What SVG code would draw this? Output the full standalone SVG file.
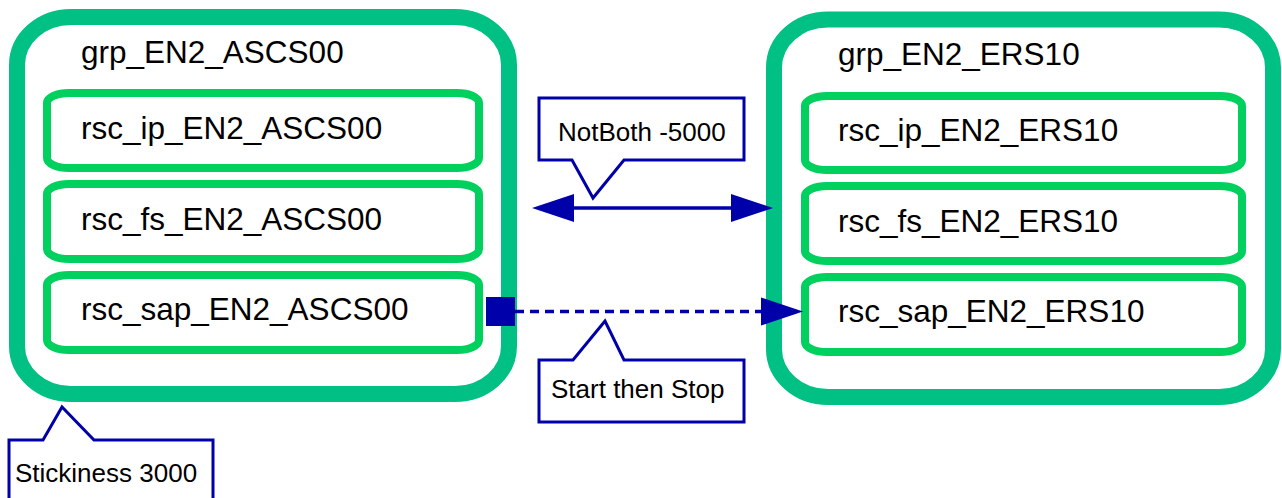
<svg xmlns="http://www.w3.org/2000/svg" width="1282" height="498" viewBox="0 0 1282 498">
<style>
.grp{fill:#ffffff;stroke:#00c084;stroke-width:16}
.rsc{fill:#ffffff;stroke:#00d05e;stroke-width:8}
.big{font-family:"Liberation Sans",Arial,sans-serif;font-size:31.5px;fill:#000000}
.lbl{font-family:"Liberation Sans",Arial,sans-serif;font-size:26px;fill:#000000}
.call{fill:#ffffff;stroke:#0000aa;stroke-width:3;stroke-linejoin:miter}
.edge{stroke:#0000aa;stroke-width:3.5;fill:none}
</style>
<defs>
<marker id="arr" markerUnits="userSpaceOnUse" markerWidth="44" markerHeight="30" viewBox="0 -15 44 30" refX="0" refY="0" orient="auto-start-reverse" overflow="visible">
<path d="M0,-14 L42,0 L0,14 Z" fill="#0000aa"/>
</marker>
</defs>
<g id="grp_EN2_ASCS00">
<rect class="grp" x="17" y="17" width="492" height="377" rx="54" ry="48"/>
<text class="big" x="81" y="63">grp_EN2_ASCS00</text>
</g>
<g id="rsc_ip_EN2_ASCS00">
<rect class="rsc" x="47" y="93" width="432" height="75" rx="22" ry="10"/>
<text class="big" x="81" y="139">rsc_ip_EN2_ASCS00</text>
</g>
<g id="rsc_fs_EN2_ASCS00">
<rect class="rsc" x="47" y="184" width="432" height="75" rx="22" ry="10"/>
<text class="big" x="81" y="230">rsc_fs_EN2_ASCS00</text>
</g>
<g id="rsc_sap_EN2_ASCS00">
<rect class="rsc" x="47" y="275" width="432" height="75" rx="22" ry="10"/>
<text class="big" x="81" y="320">rsc_sap_EN2_ASCS00</text>
</g>
<g id="grp_EN2_ERS10">
<rect class="grp" x="774" y="19.5" width="499" height="377.5" rx="54" ry="48"/>
<text class="big" x="838" y="65">grp_EN2_ERS10</text>
</g>
<g id="rsc_ip_EN2_ERS10">
<rect class="rsc" x="805" y="96" width="437" height="74" rx="22" ry="10"/>
<text class="big" x="838" y="141">rsc_ip_EN2_ERS10</text>
</g>
<g id="rsc_fs_EN2_ERS10">
<rect class="rsc" x="805" y="186" width="437" height="75" rx="22" ry="10"/>
<text class="big" x="838" y="232">rsc_fs_EN2_ERS10</text>
</g>
<g id="rsc_sap_EN2_ERS10">
<rect class="rsc" x="805" y="277" width="437" height="75" rx="22" ry="10"/>
<text class="big" x="838" y="322">rsc_sap_EN2_ERS10</text>
</g>
<g id="connectors">
<line class="edge" x1="574" y1="208" x2="731" y2="208" marker-start="url(#arr)" marker-end="url(#arr)"/>
<rect x="486" y="297" width="29" height="29" fill="#0000aa"/>
<line class="edge" x1="515" y1="311.5" x2="761" y2="311.5" stroke-dasharray="9,6" marker-end="url(#arr)"/>
</g>
<g id="label_notboth">
<path class="call" d="M539,98 H744 V160 H624 L593,198 L572,160 H539 Z"/>
<text class="lbl" x="558" y="141">NotBoth -5000</text>
</g>
<g id="label_startstop">
<path class="call" d="M539,360 H573 L605,321 L624,360 H744 V422 H539 Z"/>
<text class="lbl" x="551" y="398">Start then Stop</text>
</g>
<g id="label_stickiness">
<path class="call" d="M9,510 V440 H43 L62,407 L94,440 H213 V510"/>
<text class="lbl" x="15" y="482">Stickiness 3000</text>
</g>
</svg>
